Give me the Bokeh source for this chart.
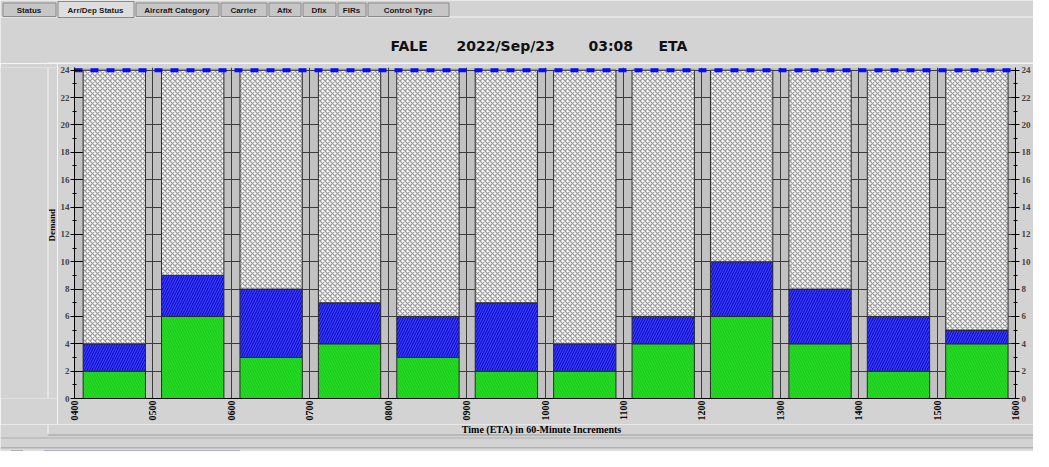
import math
from bokeh.plotting import figure
from bokeh.layouts import column, row
from bokeh.models import LinearAxis, FixedTicker, ColumnDataSource, Range1d
from bokeh.core.properties import value
from bokeh.embed import file_html
from bokeh.resources import INLINE

# ---------------- data ----------------
hour_labels = ["0400", "0500", "0600", "0700", "0800", "0900", "1000",
               "1100", "1200", "1300", "1400", "1500", "1600"]
green_counts = [2, 6, 3, 4, 3, 2, 2, 4, 6, 4, 2, 4]
blue_counts = [2, 3, 5, 3, 3, 5, 2, 2, 4, 4, 4, 1]
capacity = [24, 24, 24, 24, 24, 24, 24, 24, 24, 24, 24, 24, 24]
y_major = [0, 2, 4, 6, 8, 10, 12, 14, 16, 18, 20, 22, 24]
y_minor = [1, 3, 5, 7, 9, 11, 13, 15, 17, 19, 21, 23]
title_parts = ["FALE", "2022/Sep/23", "03:08", "ETA"]
tab_names = ["Status", "Arr/Dep Status", "Aircraft Category", "Carrier",
             "Afix", "Dfix", "FIRs", "Control Type"]
x_title = "Time (ETA) in 60-Minute Increments"
y_title = "Demand"

# ---------------- styles ----------------
PAGE_BG = "#d3d3d3"
GAP_BG = "#c2c2c2"
SERIF = "Liberation Serif"
SANS = "Liberation Sans"
LIGHT = "#f6f6f6"
SHADE = "#9a9a9a"
W, H = 1033, 451


def deco_fig(x0, x1, y0, y1):
    """Plain pixel-space strip (page pixel coordinates, y downward)."""
    f = figure(width=x1 - x0, height=y1 - y0,
               x_range=Range1d(x0, x1), y_range=Range1d(y1, y0),
               x_axis_type=None, y_axis_type=None,
               output_backend="svg", toolbar_location=None, min_border=0,
               background_fill_color=PAGE_BG, border_fill_color=PAGE_BG,
               outline_line_color=None)
    return f


def rect(f, x0, y0, x1, y1, fill, line=None):
    f.quad(left=[x0], right=[x1], top=[y0], bottom=[y1],
           fill_color=fill, line_color=line, line_width=1)


MAIN_L, MAIN_T, MAIN_B = 57, 63, 424

# ================= top strip: tabs + title =================
top = deco_fig(0, W, 0, MAIN_T)
tab_edges = [2, 57, 135, 220, 268, 302, 337, 367, 450]
TAB_T, TAB_B = 1, 16
rect(top, 0, TAB_B, W, TAB_B + 1, LIGHT)
for k, name in enumerate(tab_names):
    x0, x1 = tab_edges[k], tab_edges[k + 1] - 2
    sel = (k == 1)
    rect(top, x0 + 0.5, TAB_T + (0 if sel else 1.5), x1 + 0.5, TAB_B + (1 if sel else 0),
         "#dedede" if sel else "#c6c6c6", "#8a8a8a")
top.text(x=[(tab_edges[k] + tab_edges[k + 1] - 2) / 2 for k in range(len(tab_names))],
         y=[9.5] * len(tab_names), text=tab_names,
         text_align="center", text_baseline="middle",
         text_font=value(SANS), text_font_size=value("8px"),
         text_font_style="bold", text_color="#1a1a1a")
title_x = [390, 456, 588, 658]
top.text(x=title_x, y=[45] * len(title_parts), text=title_parts,
         text_align="left", text_baseline="middle",
         text_font=value("DejaVu Sans"), text_font_size=value("14px"),
         text_font_style="bold", text_color="#111111")
rect(top, 47, 62, 1035, 63, LIGHT)

# ================= left strip: bevel + y title =================
left = deco_fig(0, MAIN_L, MAIN_T, MAIN_B)
rect(left, 47, MAIN_T, 48, MAIN_B, LIGHT)
left.text(x=[51.5], y=[235], text=[y_title], angle=math.pi / 2,
          text_align="center", text_baseline="middle",
          text_font=value(SERIF), text_font_size=value("9px"),
          text_font_style="bold", text_color="black")

# ================= bottom strip: x title + bevel + scrollbar =================
bottom = deco_fig(0, W, MAIN_B, H)
rect(bottom, 47, MAIN_B, 48, 435, LIGHT)
rect(bottom, 47, 434, 1035, 435, SHADE)
rect(bottom, 0, 437, W, 438, "#b0b0b0")
rect(bottom, 0, 447, W, 448, "#8e8e8e")
rect(bottom, 0, 448, W, 463, "#dcdcdc")
rect(bottom, 10.5, 450.5, 22.5, 461, "#e8e8e8", "#7a7a7a")
rect(bottom, 43.5, 450.5, 239.5, 461, "#aaaaea", "#8080c0")
bottom.text(x=[541], y=[429], text=[x_title],
            text_align="center", text_baseline="middle",
            text_font=value(SERIF), text_font_size=value("10px"),
            text_font_style="bold", text_color="black")

# ================= main chart =================
n = len(green_counts)
idx = list(range(n))
totals = [g + b for g, b in zip(green_counts, blue_counts)]
src = ColumnDataSource(dict(
    left=[i + 0.11 for i in idx],
    right=[i + 0.905 for i in idx],
    green=green_counts,
    total=totals,
    cap=capacity[:n],
))

p = figure(width=W - MAIN_L, height=MAIN_B - MAIN_T,
           x_range=Range1d(0, n), y_range=Range1d(0, 24.2),
           output_backend="svg", toolbar_location=None,
           min_border_left=74 - MAIN_L, min_border_right=W - 1015,
           min_border_top=67 - MAIN_T, min_border_bottom=MAIN_B - 398,
           background_fill_color=GAP_BG, border_fill_color=PAGE_BG,
           outline_line_color=None)

p.xgrid.ticker = FixedTicker(ticks=list(range(n + 1)))
p.ygrid.ticker = FixedTicker(ticks=y_major)
p.xgrid.grid_line_color = "#3c3c3c"
p.ygrid.grid_line_color = "#3c3c3c"

p.quad(left="left", right="right", bottom=0, top="green", source=src,
       fill_color="#24de24", line_color="#2a2a2a", line_width=1,
       hatch_pattern="\\", hatch_color="#1cc41c", hatch_scale=5, hatch_weight=1)
p.quad(left="left", right="right", bottom="green", top="total", source=src,
       fill_color="#1010c8", line_color="#2a2a2a", line_width=1,
       hatch_pattern="/", hatch_color="#3c3cff", hatch_scale=5, hatch_weight=1.2)
p.quad(left="left", right="right", bottom="total", top="cap", source=src,
       fill_color="#ffffff", line_color="#2a2a2a", line_width=1,
       hatch_pattern="x", hatch_color="#9c9c9c", hatch_scale=5, hatch_weight=1.3)

p.line(x=list(range(n + 1)), y=capacity, line_color="#0a0aff", line_width=4,
       line_dash="8 8")

xa = p.xaxis[0]
xa.ticker = FixedTicker(ticks=list(range(n + 1)))
xa.major_label_overrides = {i: lab for i, lab in enumerate(hour_labels)}
xa.major_label_orientation = math.pi / 2
xa.major_tick_in = 0
xa.major_tick_out = 0
xa.minor_tick_in = 0
xa.minor_tick_out = 0
xa.major_label_standoff = 2
xa.major_label_text_font = SERIF
xa.major_label_text_font_size = "10px"
xa.major_label_text_font_style = "bold"
xa.major_label_text_color = "black"
xa.axis_line_color = "black"

ya = p.yaxis[0]
ya.ticker = FixedTicker(ticks=y_major, minor_ticks=y_minor)
ya.major_tick_in = 8
ya.major_tick_out = 4
ya.minor_tick_in = 2
ya.minor_tick_out = 2
ya.major_label_standoff = 1
ya.major_label_text_font = SERIF
ya.major_label_text_font_size = "9px"
ya.major_label_text_font_style = "bold"

ra = LinearAxis(ticker=FixedTicker(ticks=y_major, minor_ticks=y_minor))
ra.major_tick_in = 4
ra.major_tick_out = 4
ra.minor_tick_in = 2
ra.minor_tick_out = 2
ra.major_label_standoff = 2
ra.major_label_text_font = SERIF
ra.major_label_text_font_size = "9px"
ra.major_label_text_font_style = "bold"
p.add_layout(ra, "right")

layout = column(top, row(left, p, spacing=0), bottom, spacing=0)
open("out.html", "w").write(file_html(layout, INLINE))
